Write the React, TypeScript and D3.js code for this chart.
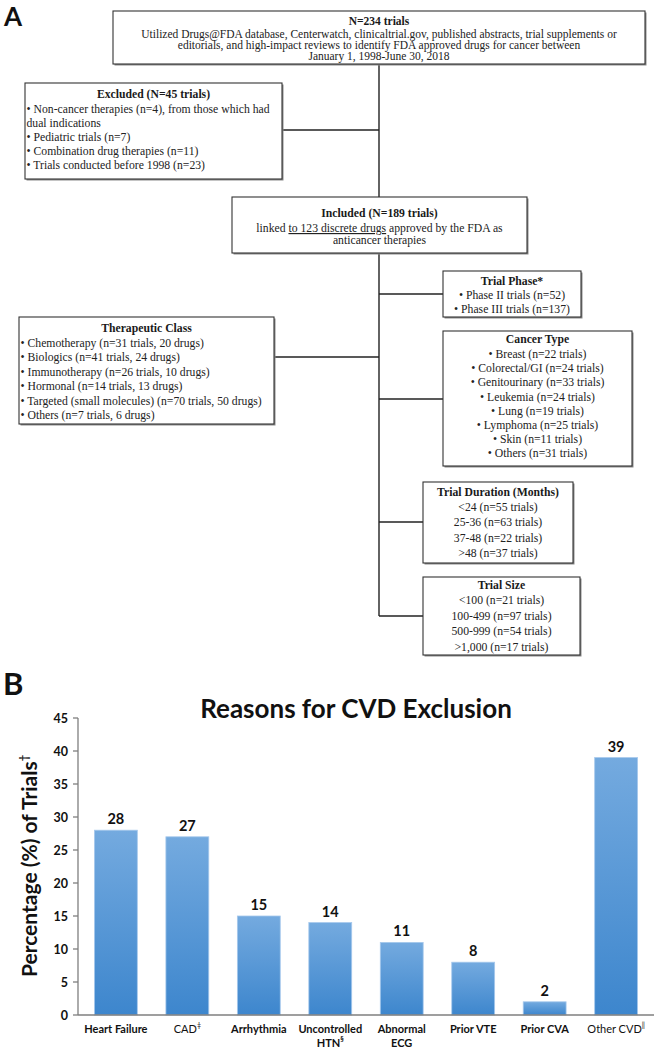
import React from "react";
import * as d3 from "d3";

// ---------- Panel B data ----------
const categories = ["Heart Failure", "CAD", "Arrhythmia", "Uncontrolled HTN", "Abnormal ECG", "Prior VTE", "Prior CVA", "Other CVD"];
const values = [28, 27, 15, 14, 11, 8, 2, 39];
const labelLine1 = ["Heart Failure", "CAD", "Arrhythmia", "Uncontrolled", "Abnormal", "Prior VTE", "Prior CVA", "Other CVD"];
const labelLine2 = ["", "", "", "HTN", "ECG", "", "", ""];
const labelSup = ["", "‡", "", "§", "", "", "", "‖"];
const labelBold = [true, false, true, true, true, true, true, false];
const yTicks = [0, 5, 10, 15, 20, 25, 30, 35, 40, 45];
const chartTitle = "Reasons for CVD Exclusion";
const yTitle = "Percentage (%) of Trials";

// ---------- Panel A texts ----------
const topBoxTitle = "N=234 trials";
const topBoxLines = [
  "Utilized Drugs@FDA database, Centerwatch, clinicaltrial.gov, published abstracts, trial supplements or",
  "editorials, and high-impact reviews to identify FDA approved drugs for cancer between",
  "January 1, 1998-June 30, 2018",
];
const excludedTitle = "Excluded (N=45 trials)";
const excludedLines = [
  "• Non-cancer therapies (n=4), from those which had",
  "dual indications",
  "• Pediatric trials (n=7)",
  "• Combination drug therapies (n=11)",
  "• Trials conducted before 1998 (n=23)",
];
const includedTitle = "Included (N=189 trials)";
const phaseTitle = "Trial Phase*";
const phaseLines = ["• Phase II trials (n=52)", "• Phase III trials (n=137)"];
const therapeuticTitle = "Therapeutic Class";
const therapeuticLines = [
  "• Chemotherapy (n=31 trials, 20 drugs)",
  "• Biologics (n=41 trials, 24 drugs)",
  "• Immunotherapy (n=26 trials, 10 drugs)",
  "• Hormonal (n=14 trials, 13 drugs)",
  "• Targeted (small molecules) (n=70 trials, 50 drugs)",
  "• Others (n=7 trials, 6 drugs)",
];
const cancerTitle = "Cancer Type";
const cancerLines = [
  "• Breast (n=22 trials)",
  "• Colorectal/GI (n=24 trials)",
  "• Genitourinary (n=33 trials)",
  "• Leukemia (n=24 trials)",
  "• Lung (n=19 trials)",
  "• Lymphoma (n=25 trials)",
  "• Skin (n=11 trials)",
  "• Others (n=31 trials)",
];
const durationTitle = "Trial Duration (Months)";
const durationLines = ["<24 (n=55 trials)", "25-36 (n=63 trials)", "37-48 (n=22 trials)", ">48 (n=37 trials)"];
const sizeTitle = "Trial Size";
const sizeLines = ["<100 (n=21 trials)", "100-499 (n=97 trials)", "500-999 (n=54 trials)", ">1,000 (n=17 trials)"];

const SERIF = "'Liberation Serif', 'Times New Roman', serif";
const SANS = "Lato, 'Open Sans', sans-serif";
const FS = 11.7;

type BoxProps = {
  x: number; y: number; w: number; h: number;
  title: string; lines: string[];
  titleY: number; firstY: number; step: number;
  align?: "center" | "left"; fs?: number;
};

function Box({ x, y, w, h, title, lines, titleY, firstY, step, align = "center", fs = FS }: BoxProps) {
  const cx = x + w / 2;
  const lx = x + 1.5;
  return (
    <g>
      <rect x={x + 1.5} y={y + 1.5} width={w} height={h} fill="#8a8a8a" />
      <rect x={x} y={y} width={w} height={h} fill="#fff" stroke="#333" strokeWidth={1.1} />
      <text x={cx} y={titleY} textAnchor="middle" fontFamily={SERIF} fontWeight="bold" fontSize={fs} fill="#1a1a1a">{title}</text>
      {lines.map((t, i) => (
        <text key={i} x={align === "center" ? cx : lx} y={firstY + i * step}
          textAnchor={align === "center" ? "middle" : "start"}
          fontFamily={SERIF} fontSize={fs} fill="#222">{t}</text>
      ))}
    </g>
  );
}

function PanelA() {
  const vx = 379;
  const line = (x1: number, y1: number, x2: number, y2: number, k: string) => (
    <line key={k} x1={x1} y1={y1} x2={x2} y2={y2} stroke="#222" strokeWidth={1.4} />
  );
  return (
    <g>
      <text x={4} y={26} fontFamily={SANS} fontWeight="bold" fontSize={26} fill="#111">A</text>
      {line(vx, 64, vx, 197, "v1")}
      {line(vx, 253, vx, 616, "v2")}
      {line(282, 130, vx, 130, "h1")}
      {line(vx, 294, 443, 294, "h2")}
      {line(274, 357, vx, 357, "h3")}
      {line(vx, 399, 443, 399, "h4")}
      {line(vx, 522, 423, 522, "h5")}
      {line(vx, 616, 423, 616, "h6")}
      <Box x={113} y={11} w={532} h={53} title={topBoxTitle} lines={topBoxLines} titleY={25} firstY={38} step={11} fs={11.5} />
      <Box x={25} y={83} w={257} h={96} title={excludedTitle} lines={excludedLines} titleY={98} firstY={113} step={14} align="left" />
      {/* Included box */}
      <g>
        <rect x={233.5} y={198.5} width={295} height={56} fill="#8a8a8a" />
        <rect x={232} y={197} width={295} height={56} fill="#fff" stroke="#333" strokeWidth={1.1} />
        <text x={379.5} y={217} textAnchor="middle" fontFamily={SERIF} fontWeight="bold" fontSize={FS} fill="#1a1a1a">{includedTitle}</text>
        <text x={379.5} y={232} textAnchor="middle" fontFamily={SERIF} fontSize={FS} fill="#222">
          <tspan>linked </tspan>
          <tspan textDecoration="underline">to 123 discrete drugs</tspan>
          <tspan> approved by the FDA as</tspan>
        </text>
        <text x={379.5} y={244} textAnchor="middle" fontFamily={SERIF} fontSize={FS} fill="#222">anticancer therapies</text>
      </g>
      <Box x={443} y={271} w={138} h={46} title={phaseTitle} lines={phaseLines} titleY={285} firstY={299} step={14} />
      <Box x={19} y={317} w={255} h={107} title={therapeuticTitle} lines={therapeuticLines} titleY={332} firstY={347} step={14.4} align="left" />
      <Box x={443} y={331} w={189} h={135} title={cancerTitle} lines={cancerLines} titleY={343} firstY={358} step={14.2} />
      <Box x={423} y={482} w={150} h={81} title={durationTitle} lines={durationLines} titleY={496} firstY={511} step={15.3} />
      <Box x={423} y={577} w={157} h={78} title={sizeTitle} lines={sizeLines} titleY={589} firstY={604} step={15.5} />
    </g>
  );
}

function PanelB() {
  const x = d3.scaleBand<string>().domain(categories).range([78, 654]).paddingInner(0.4).paddingOuter(0.23);
  const y = d3.scaleLinear().domain([0, 45]).range([1015, 718]);
  const axisX = 78;
  return (
    <g>
      <defs>
        <linearGradient id="barGrad" x1="0" y1="0" x2="0" y2="1">
          <stop offset="0" stopColor="#74aadf" />
          <stop offset="1" stopColor="#3d86cd" />
        </linearGradient>
      </defs>
      <text x={3} y={695} fontFamily={SANS} fontWeight="bold" fontSize={31} fill="#111">B</text>
      <text x={356} y={718} textAnchor="middle" fontFamily={SANS} fontWeight="bold" fontSize={26} fill="#111">{chartTitle}</text>
      <text transform={`translate(37, 866) rotate(-90)`} textAnchor="middle" fontFamily={SANS} fontWeight="bold" fontSize={21} fill="#111">
        {yTitle}<tspan fontSize={11} dy={-9}>†</tspan>
      </text>
      {categories.map((c, i) => (
        <g key={c}>
          <rect x={x(c)} y={y(values[i])} width={x.bandwidth()} height={y(0) - y(values[i])} fill="url(#barGrad)" stroke="#a6c8ec" strokeWidth={0.8} />
          <text x={(x(c) as number) + x.bandwidth() / 2} y={y(values[i]) - 6} textAnchor="middle" fontFamily={SANS} fontWeight="bold" fontSize={14.5} fill="#111">{values[i]}</text>
        </g>
      ))}
      <line x1={axisX} y1={y(45)} x2={axisX} y2={y(0)} stroke="#7f7f7f" strokeWidth={1.3} />
      <line x1={axisX} y1={y(0)} x2={654} y2={y(0)} stroke="#7f7f7f" strokeWidth={1.3} />
      {yTicks.map((t) => (
        <g key={t}>
          <line x1={axisX - 5} x2={axisX} y1={y(t)} y2={y(t)} stroke="#7f7f7f" strokeWidth={1.3} />
          <text x={axisX - 10} y={y(t) + 4.5} textAnchor="end" fontFamily={SANS} fontWeight="bold" fontSize={12.5} fill="#111">{t}</text>
        </g>
      ))}
      {categories.map((c, i) => {
        const cx = (x(c) as number) + x.bandwidth() / 2;
        const fw = labelBold[i] ? "bold" : "normal";
        const two = labelLine2[i] !== "";
        return (
          <g key={c + "lbl"}>
            <text x={cx} y={1033} textAnchor="middle" fontFamily={SANS} fontWeight={fw} fontSize={11} fill="#111">
              {labelLine1[i]}
              {!two && labelSup[i] ? <tspan fontSize={7} dy={-5}>{labelSup[i]}</tspan> : null}
            </text>
            {two ? (
              <text x={cx} y={1047} textAnchor="middle" fontFamily={SANS} fontWeight={fw} fontSize={11} fill="#111">
                {labelLine2[i]}
                {labelSup[i] ? <tspan fontSize={7} dy={-5}>{labelSup[i]}</tspan> : null}
              </text>
            ) : null}
          </g>
        );
      })}
    </g>
  );
}

export default function App() {
  return (
    <svg width={654} height={1050} viewBox="0 0 654 1050"
      style={{ position: "absolute", left: 0, top: 0, background: "#fff", display: "block" }}>
      <rect x={0} y={0} width={654} height={1050} fill="#fff" />
      <PanelA />
      <PanelB />
    </svg>
  );
}
